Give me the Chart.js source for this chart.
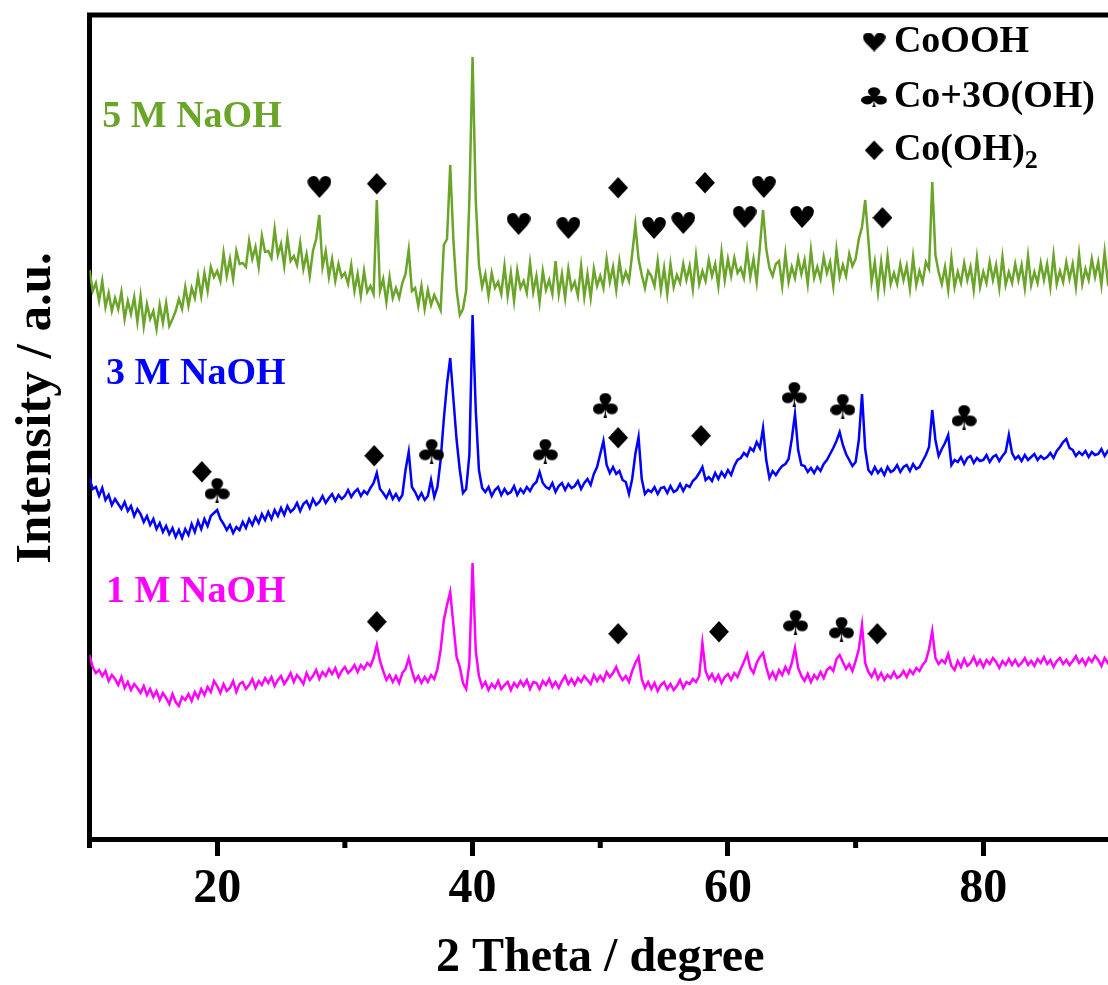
<!DOCTYPE html>
<html>
<head>
<meta charset="utf-8">
<script src="https://cdn.jsdelivr.net/npm/chart.js@4.4.1/dist/chart.umd.min.js"></script>
<style>
  html, body { margin: 0; padding: 0; background: #fff; overflow: hidden; }
  #wrap { width: 1118px; height: 985px; position: relative; }
</style>
</head>
<body>
<div id="wrap"><canvas id="xrd"></canvas></div>
<script>
// 2 theta sampling of the patterns
const thetaStart = 10;
const thetaStep = 0.25;

// intensities (a.u.), one group per degree: d, d+.25, d+.5, d+.75
const oneM = [
  184,172,166,169, 163,168,158,164, 160,154,162,151, 157,149,155,151, 146,153,144,150,
  142,148,139,146, 141,135,145,137, 133,142,139,145, 138,147,141,150, 144,152,147,158,
  153,146,155,148, 151,158,147,155, 157,150,154,160, 151,158,154,161, 156,162,153,159,
  163,155,160,166, 157,164,160,155, 166,159,163,169, 160,167,163,170, 165,171,162,168,
  172,166,169,174, 167,174,170,176, 173,181,194,178, 168,159,164,157, 163,156,166,170,
  181,168,158,163, 156,162,157,164, 160,170,189,219, 234,247,214,182, 172,156,150,176,
  276,188,163,152, 157,149,155,151, 158,150,154,157, 149,156,152,158, 153,159,150,157,
  156,150,158,154, 160,152,157,151, 158,163,155,160, 154,161,157,163, 159,155,164,158,
  163,158,167,162, 166,172,164,159, 163,157,168,176, 182,160,151,157, 150,156,148,154,
  157,150,155,149, 153,159,151,157, 155,160,157,163, 196,168,160,165, 158,164,156,162,
  165,159,166,162, 170,177,185,171, 166,176,182,186, 172,161,167,160, 169,164,172,166,
  176,191,171,163, 158,165,157,164, 160,167,161,169, 172,168,180,184, 177,170,175,168,
  178,190,214,176, 167,162,169,160, 166,159,164,161, 167,161,163,168, 162,169,165,171,
  168,174,178,190, 208,181,175,179, 176,185,173,169, 178,172,180,173, 176,182,174,179,
  172,179,175,181, 177,171,178,174, 180,174,179,173, 176,181,174,178, 173,180,176,182,
  175,179,172,178, 181,175,179,174, 178,183,176,180, 174,181,177,183, 179,173,181,176,
  180
];

const threeM = [
  361,350,352,343, 351,339,344,334, 340,335,330,337, 328,333,323,330, 325,317,323,314,
  320,310,316,307, 313,305,311,302, 309,301,310,304, 315,307,318,310, 320,313,323,326,
  329,320,315,309, 314,306,312,309, 317,311,320,314, 322,316,325,319, 327,320,329,323,
  331,324,333,327, 330,336,328,335, 338,331,340,334, 337,343,336,341, 345,338,344,340,
  343,349,342,347, 350,343,348,345, 351,356,366,350, 346,341,348,340, 345,339,344,369,
  387,352,347,340, 346,339,343,359, 342,352,379,420, 455,481,440,399, 369,346,350,384,
  524,429,369,351, 347,352,343,349, 352,344,350,345, 347,353,344,350, 346,352,348,354,
  357,367,356,352, 350,356,347,353, 356,349,355,351, 353,358,350,356, 360,354,365,372,
  385,398,374,366, 372,365,368,359, 357,345,360,385, 402,360,345,349, 347,352,345,351,
  352,346,353,347, 349,355,348,354, 352,358,361,366, 372,359,362,358, 366,360,367,362,
  369,364,373,379, 381,386,383,391, 388,397,391,411, 379,361,368,364, 369,373,375,380,
  400,425,389,374, 373,367,371,366, 372,368,375,379, 385,391,398,407, 394,385,379,373,
  377,399,445,390, 369,365,372,366, 370,364,372,367, 369,374,367,372, 374,368,375,370,
  372,378,384,392, 429,399,383,390, 396,404,374,379, 377,382,375,381, 383,376,381,378,
  379,384,377,382, 384,378,383,387, 404,386,380,383, 378,384,379,382, 385,379,383,380,
  382,386,381,388, 392,397,400,391, 389,383,387,384, 388,382,387,384, 385,390,383,388,
  386
];

const fiveM = [
  569,548,556,538, 558,532,546,528, 541,530,547,520, 538,525,542,517, 543,513,535,520,
  528,510,534,516, 536,513,520,528, 540,530,552,533, 551,541,563,543, 566,548,572,562,
  568,558,586,563, 580,560,588,575, 576,572,598,580, 592,572,603,587, 588,581,610,584,
  595,573,602,578, 583,574,596,570, 585,563,588,600, 624,572,588,562, 580,558,575,562,
  566,555,574,548, 565,543,568,547, 553,545,639,548, 560,537,562,541, 551,541,556,565,
  589,548,551,533, 553,530,549,534, 544,537,529,594, 600,674,599,549, 524,530,549,639,
  782,639,574,552, 565,543,566,551, 557,545,573,543, 566,538,569,551, 558,546,576,547,
  563,537,568,549, 559,545,578,545, 565,541,570,550, 557,543,573,542, 565,541,570,553,
  563,551,580,557, 572,549,578,557, 567,558,585,614, 580,564,551,568, 563,553,578,549,
  571,545,575,552, 564,556,575,559, 573,550,583,555, 568,558,579,563, 575,553,587,559,
  580,563,581,566, 571,561,589,562, 580,557,592,629, 590,571,563,575, 578,553,585,557,
  572,561,581,565, 579,555,589,561, 572,560,582,566, 577,553,589,562, 574,563,585,573,
  580,600,612,639, 599,557,577,547, 577,552,583,555, 566,555,575,559, 573,550,582,554,
  568,557,577,570, 657,584,567,555, 572,549,581,552, 567,556,576,559, 572,549,581,552,
  567,556,577,559, 574,551,582,554, 567,556,575,559, 574,551,583,554, 567,556,576,559,
  575,552,584,555, 568,557,577,560, 575,552,585,555, 570,559,580,562, 577,554,587,557,
  565
];

const seriesNames = ['1 M NaOH', '3 M NaOH', '5 M NaOH'];
const seriesColors = ['#ff00ff', '#0000ff', '#6aa52a'];
// where the series names sit: [2theta, intensity]
const nameSpots = [[11.3, 247], [11.3, 465], [11.0, 722]];

// phase reflections marked above the patterns: [2theta, intensity]
const heartMarks = [[28.0,652],[43.6,615],[47.5,611],[54.2,611],[56.5,616],[61.3,622],[62.8,652],[65.8,622]];
const diamondMarks = [
  [32.5,655],[51.4,651],[58.2,656],[72.1,621],
  [18.8,367],[32.3,383],[51.4,401],[57.9,403],
  [32.5,217],[51.4,205],[59.3,207],[71.7,205]
];
const clubMarks = [
  [20.0,349],[36.8,388],[45.7,388],[50.4,434],[65.2,445],[69.0,433],[78.5,422],
  [65.3,217],[68.9,210]
];

const phaseNames = ['CoOOH', 'Co+3O(OH)', 'Co(OH)'];
const phaseRows = [797, 742, 689];

const xTicks = [20, 40, 60, 80];
const minorTicks = [10, 30, 50, 70, 90];

function glyph(ch, w, h) {
  const c = document.createElement('canvas');
  c.width = w; c.height = h;
  const g = c.getContext('2d');
  g.font = '100px "DejaVu Sans"';
  const m = g.measureText(ch);
  const bw = m.actualBoundingBoxLeft + m.actualBoundingBoxRight;
  const bh = m.actualBoundingBoxAscent + m.actualBoundingBoxDescent;
  g.scale(w / bw, h / bh);
  g.fillStyle = '#000';
  g.fillText(ch, m.actualBoundingBoxLeft, m.actualBoundingBoxAscent);
  return c;
}

const heart = glyph('\u2665', 24, 22);
const club = glyph('\u2663', 25, 25);
const diamond = glyph('\u25C6', 20, 22);
const legendGlyphs = [glyph('\u2665', 23, 19), glyph('\u2663', 26, 20), glyph('\u25C6', 19, 20)];

function toPoints(values) {
  return values.map((v, i) => ({ x: thetaStart + i * thetaStep, y: v }));
}
function markPoints(list) {
  return list.map(p => ({ x: p[0], y: p[1] }));
}

const serif = '"Liberation Serif", "Times New Roman", serif';

const annotate = {
  id: 'annotate',
  afterDraw(chart) {
    const { ctx, chartArea: a, scales: { x, y } } = chart;
    ctx.save();
    ctx.strokeStyle = '#000';
    ctx.lineWidth = 5;
    ctx.beginPath();
    ctx.moveTo(a.left - 2.5, a.top);
    ctx.lineTo(a.right + 10, a.top);
    ctx.stroke();
    minorTicks.forEach(v => {
      const px = x.getPixelForValue(v);
      ctx.beginPath();
      ctx.moveTo(px, a.bottom);
      ctx.lineTo(px, a.bottom + 9);
      ctx.stroke();
    });

    ctx.textBaseline = 'middle';
    ctx.textAlign = 'left';
    ctx.font = 'bold 38px ' + serif;
    seriesNames.forEach((n, i) => {
      ctx.fillStyle = seriesColors[i];
      ctx.fillText(n, x.getPixelForValue(nameSpots[i][0]), y.getPixelForValue(nameSpots[i][1]));
    });

    // phase legend
    ctx.fillStyle = '#000';
    phaseNames.forEach((n, i) => {
      const cy = y.getPixelForValue(phaseRows[i]);
      const gx = x.getPixelForValue(71.45);
      const g = legendGlyphs[i];
      ctx.drawImage(g, gx - g.width / 2, cy - g.height / 2);
      ctx.font = 'bold 38px ' + serif;
      const tx = x.getPixelForValue(73.0);
      ctx.fillText(n, tx, cy);
      if (i === 2) {
        const w = ctx.measureText(n).width;
        ctx.font = 'bold 26px ' + serif;
        ctx.fillText('2', tx + w, cy + 11);
      }
    });

    ctx.translate(37, (a.top + a.bottom) / 2 - 19);
    ctx.rotate(-Math.PI / 2);
    ctx.textAlign = 'center';
    ctx.font = 'bold 51px ' + serif;
    ctx.fillText('Intensity / a.u.', 0, 0);
    ctx.restore();
  }
};

const lineStyle = { borderWidth: 2.5, pointRadius: 0, fill: false, tension: 0 };

new Chart(document.getElementById('xrd'), {
  type: 'line',
  data: {
    datasets: [
      { label: 'CoOOH', data: markPoints(heartMarks), showLine: false, pointStyle: heart, pointRadius: 6 },
      { label: 'Co+3O(OH)', data: markPoints(clubMarks), showLine: false, pointStyle: club, pointRadius: 6 },
      { label: 'Co(OH)2', data: markPoints(diamondMarks), showLine: false, pointStyle: diamond, pointRadius: 6 },
      { label: seriesNames[2], data: toPoints(fiveM), borderColor: seriesColors[2], ...lineStyle },
      { label: seriesNames[1], data: toPoints(threeM), borderColor: seriesColors[1], ...lineStyle },
      { label: seriesNames[0], data: toPoints(oneM), borderColor: seriesColors[0], ...lineStyle }
    ]
  },
  options: {
    responsive: true,
    maintainAspectRatio: false,
    animation: false,
    layout: { padding: { top: 15, right: 4, left: 0, bottom: 0 } },
    plugins: { legend: { display: false }, tooltip: { enabled: false } },
    scales: {
      x: {
        type: 'linear',
        min: 10,
        max: 90,
        afterFit: s => { s.height = 146; },
        afterBuildTicks: s => { s.ticks = xTicks.map(v => ({ value: v })); },
        ticks: {
          color: '#000',
          padding: 5,
          maxRotation: 0,
          autoSkip: false,
          font: { family: serif, size: 48, weight: 'bold' }
        },
        grid: { drawOnChartArea: false, drawTicks: true, tickLength: 17, tickWidth: 5, tickColor: '#000' },
        border: { display: true, color: '#000', width: 5 },
        title: {
          display: true,
          text: '2 Theta / degree',
          color: '#000',
          padding: 0,
          font: { family: serif, size: 48, weight: 'bold', lineHeight: 1.08 }
        }
      },
      y: {
        type: 'linear',
        min: 0,
        max: 824,
        afterFit: s => { s.width = 89.5; },
        ticks: { display: false },
        grid: { display: false },
        border: { display: true, color: '#000', width: 5 }
      }
    }
  },
  plugins: [annotate]
});
</script>
</body>
</html>
